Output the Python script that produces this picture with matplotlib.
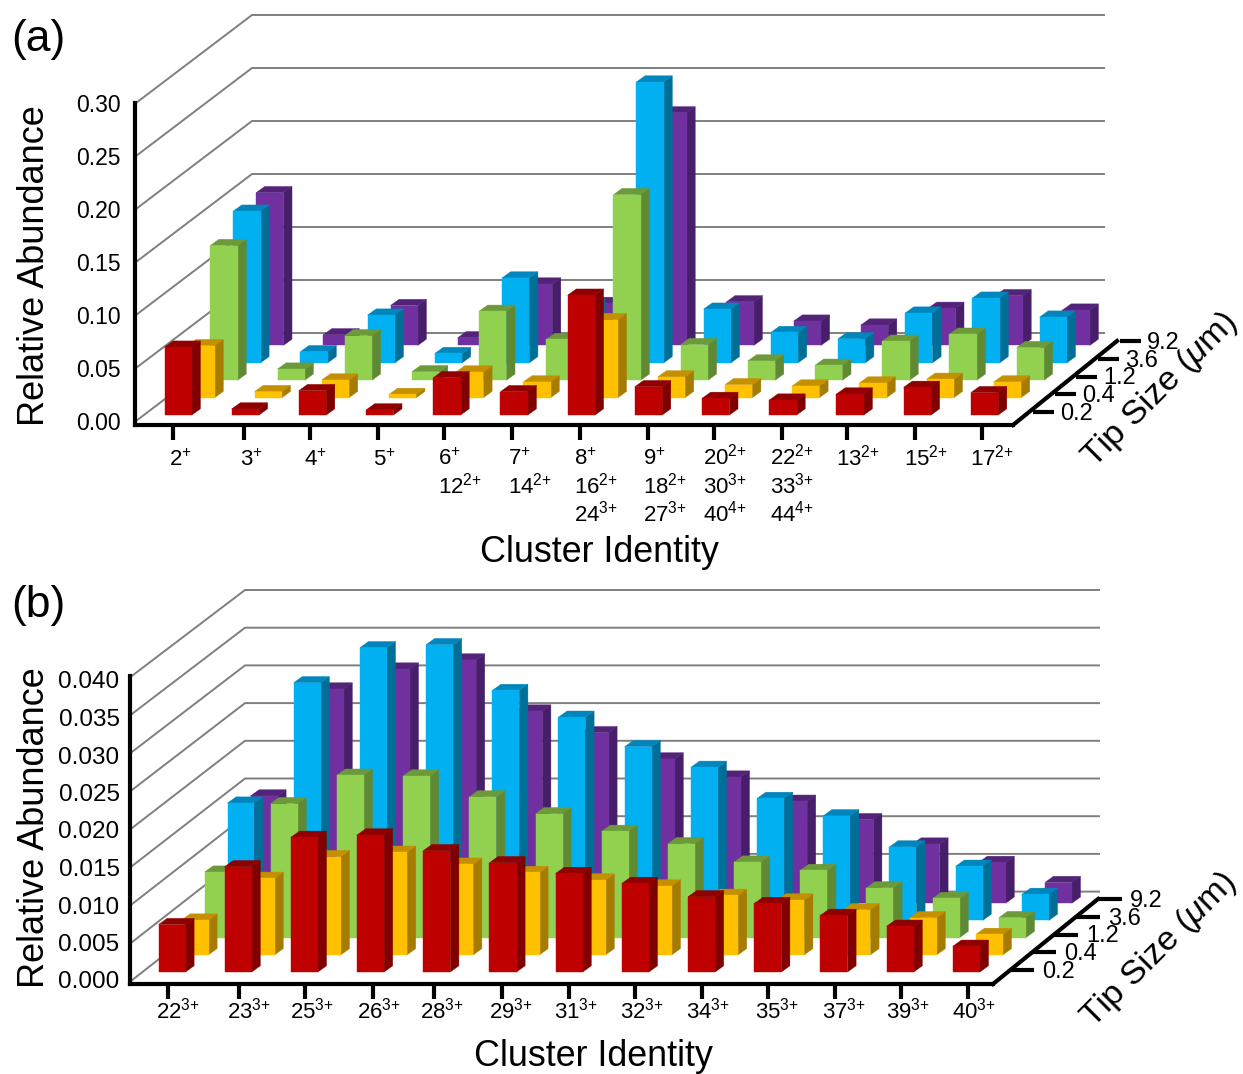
import matplotlib
matplotlib.use("Agg")
import matplotlib.pyplot as plt
from matplotlib.transforms import ScaledTranslation

plt.rcParams['font.family'] = ['Liberation Sans', 'DejaVu Sans']
plt.rcParams['mathtext.fontset'] = 'custom'
plt.rcParams['mathtext.rm'] = 'Liberation Sans'
plt.rcParams['mathtext.it'] = 'Liberation Sans:italic'
plt.rcParams['mathtext.bf'] = 'Liberation Sans:bold'
plt.rcParams['mathtext.default'] = 'regular'

W, H = 1243, 1074

tip_sizes = ['0.2', '0.4', '1.2', '3.6', '9.2']

# ---- panel (a) data ----
labels_a = ['2$^{+}$', '3$^{+}$', '4$^{+}$', '5$^{+}$',
            '6$^{+}$\n12$^{2{+}}$', '7$^{+}$\n14$^{2{+}}$',
            '8$^{+}$\n16$^{2{+}}$\n24$^{3{+}}$', '9$^{+}$\n18$^{2{+}}$\n27$^{3{+}}$',
            '20$^{2{+}}$\n30$^{3{+}}$\n40$^{4{+}}$', '22$^{2{+}}$\n33$^{3{+}}$\n44$^{4{+}}$',
            '13$^{2{+}}$', '15$^{2{+}}$', '17$^{2{+}}$']
a_02 = [.0640, .0057, .0230, .0048, .0352, .0220, .1130, .0267, .0157, .0141, .0198, .0261, .0211]
a_04 = [.0490, .0057, .0166, .0030, .0242, .0148, .0736, .0195, .0122, .0110, .0138, .0173, .0148]
a_12 = [.1270, .0105, .0420, .0080, .0650, .0384, .1750, .0336, .0182, .0141, .0368, .0434, .0308]
a_36 = [.1430, .0105, .0450, .0088, .0800, .0544, .2648, .0506, .0286, .0226, .0469, .0610, .0431]
a_92 = [.1440, .0100, .0376, .0072, .0579, .0396, .2193, .0411, .0229, .0192, .0350, .0469, .0333]
ticks_a = ['0.00', '0.05', '0.10', '0.15', '0.20', '0.25', '0.30']
tickvals_a = [0.0, 0.05, 0.10, 0.15, 0.20, 0.25, 0.30]

# ---- panel (b) data ----
labels_b = [f'{n}$^{{3{{+}}}}$' for n in [22, 23, 25, 26, 28, 29, 31, 32, 34, 35, 37, 39, 40]]
b_02 = [.00628, .01394, .01783, .01814, .01606, .01447, .01305, .01173, .00996, .00907, .00750, .00606, .00341]
b_04 = [.00460, .01013, .01300, .01358, .01200, .01090, .00991, .00912, .00788, .00726, .00597, .00491, .00270]
b_12 = [.00867, .01774, .02150, .02140, .01863, .01640, .01407, .01243, .01000, .00890, .00659, .00518, .00265]
b_36 = [.01553, .03146, .03610, .03650, .03044, .02690, .02300, .02027, .01615, .01385, .00973, .00717, .00345]
b_92 = [.01420, .02836, .03100, .03220, .02544, .02257, .01910, .01670, .01350, .01106, .00783, .00540, .00274]
ticks_b = ['0.000', '0.005', '0.010', '0.015', '0.020', '0.025', '0.030', '0.035', '0.040']
tickvals_b = [0.0, 0.005, 0.010, 0.015, 0.020, 0.025, 0.030, 0.035, 0.040]

# front, top, side colours per tip size (front row first)
colors = [('#BF0000', '#900000', '#800000'),
          ('#FFC000', '#C49000', '#A67C00'),
          ('#92D050', '#6C9A3A', '#5F8A33'),
          ('#00B0F0', '#0086BC', '#006F98'),
          ('#7030A0', '#53237A', '#471E69')]

fig = plt.figure(figsize=(W / 100, H / 100), dpi=100)


def draw_panel(series, xlabels, yticks, ylabels, L):
    ax = fig.add_axes([L['x0'] / W, 1 - L['y0'] / H,
                       (L['x1'] - L['x0']) / W, (L['y0'] - L['ytop']) / H])
    ax.patch.set_visible(False)
    sx = L['step']
    sy = (L['y0'] - L['ytop']) / yticks[-1]
    ax.set_xlim((L['x0'] - L['bar0']) / sx, (L['x1'] - L['bar0']) / sx)
    ax.set_ylim(0, yticks[-1])

    def pt(px, py):
        return (px - L['bar0']) / sx, (L['y0'] - py) / sy

    # wall grid
    for v in yticks:
        f = pt(L['wx0'], L['wfy'] - L['wfs'] * v)
        b = pt(L['wx1'], L['wby'] - L['wbs'] * v)
        e = pt(L['wx2'], L['wby'] - L['wbs'] * v)
        ax.plot([f[0], b[0], e[0]], [f[1], b[1], e[1]], color='#7F7F7F', lw=1.4,
                clip_on=False, zorder=1, solid_joinstyle='miter')

    # bars
    bw = L['bw'] / sx
    ox, oy = L['sidex'] / sx, L['sidey'] / sy
    zx, zy = L['zx'] / sx, L['zy'] / sy
    base = (L['y0'] - L['base']) / sy
    z_order = 2
    for z in range(len(series) - 1, -1, -1):
        front, top, side = colors[z]
        for i, val in enumerate(series[z]):
            v = val * L['persp']
            xl = i + z * zx
            y0 = base + z * zy
            kw = dict(clip_on=False, lw=0.3, zorder=z_order)
            ax.fill([xl + bw, xl + bw + ox, xl + bw + ox, xl + bw],
                    [y0, y0 + oy, y0 + oy + v, y0 + v], color=side, **kw)
            ax.fill([xl, xl + ox, xl + bw + ox, xl + bw],
                    [y0 + v, y0 + v + oy, y0 + v + oy, y0 + v], color=top, **kw)
            ax.fill([xl, xl + bw, xl + bw, xl],
                    [y0, y0, y0 + v, y0 + v], color=front, **kw)
        z_order += 1

    # spines
    for s in ['top', 'right']:
        ax.spines[s].set_visible(False)
    for s in ['left', 'bottom']:
        ax.spines[s].set_linewidth(3.0)
        ax.spines[s].set_zorder(20)
        ax.spines[s].set_capstyle('projecting')

    # x ticks: matplotlib's baseline is the last line of a label, so
    # multi-line labels are moved down to keep every first line level
    xt = [(p - L['bar0']) / sx for p in L['xtick_px']]
    ax.set_xticks(xt)
    ax.set_xticklabels(xlabels, fontsize=L['xfs'], ha='left', va='baseline',
                       multialignment='left', linespacing=L['xls'])
    ax.tick_params(axis='x', length=10.5, width=3.0, pad=L['xpad'])
    for lab, p, lft, text in zip(ax.get_xticklabels(), L['xtick_px'], L['xleft_px'], xlabels):
        down = text.count('\n') * L['xline_px']
        lab.set_transform(lab.get_transform() +
                          ScaledTranslation((lft - p) / 100, -down / 100, fig.dpi_scale_trans))

    # y ticks (labels sit on the slightly compressed grid scale)
    yp = [(L['y0'] - (L['ylab0'] - L['ylabs'] * v)) / sy for v in yticks]
    ax.set_yticks(yp)
    ax.set_yticklabels(ylabels, fontsize=L['yfs'])
    ax.tick_params(axis='y', length=0, pad=L['ypad'])

    # axis titles
    ax.set_ylabel('Relative Abundance', fontsize=26, va='center')
    ax.yaxis.set_label_coords(35 / W, 1 - L['ylab_y'] / H, transform=fig.transFigure)
    ax.set_xlabel('Cluster Identity', fontsize=25.8, va='center')
    ax.xaxis.set_label_coords(L['xlab'][0] / W, 1 - L['xlab'][1] / H, transform=fig.transFigure)

    # depth axis
    c0, c1 = pt(*L['corner0']), pt(*L['corner1'])
    ax.plot([c0[0], c1[0]], [c0[1], c1[1]], color='k', lw=3.0, clip_on=False,
            zorder=20, solid_capstyle='projecting')
    for k, name in enumerate(tip_sizes):
        px = L['dt0'][0] + k * L['dtstep'][0]
        py = L['dt0'][1] + k * L['dtstep'][1]
        a, b = pt(px, py), pt(px + L['dtlen'], py)
        ax.plot([a[0], b[0]], [a[1], b[1]], color='k', lw=3.0, clip_on=False, zorder=20,
                solid_capstyle='butt')
        tx, ty = pt(px + L['dtlab'], py + 2)
        ax.text(tx, ty, name, fontsize=17, ha='left', va='center', clip_on=False, zorder=21)

    tx, ty = L['tip']
    fig.text(tx / W, 1 - ty / H, 'Tip Size ($\\mathit{\\mu}$m)', fontsize=24.8, rotation=45,
             ha='center', va='center', rotation_mode='anchor')
    tx, ty = L['letter'][:2]
    fig.text(tx / W, 1 - ty / H, L['letter'][2], fontsize=32, ha='left', va='center')


layout_a = dict(x0=135, x1=1013, y0=425, ytop=103, bar0=164.5, step=67.2, bw=27.3,
                sidex=8.6, sidey=6.2, zx=22.9, zy=17.4, base=415, persp=0.988,
                wx0=136, wx1=252, wx2=1104, wfy=421, wfs=1060, wby=333, wbs=1060,
                xtick_px=[173, 244, 310, 378, 444, 512, 580, 648, 714, 782, 847, 915, 982],
                xleft_px=[169, 240, 304, 373, 438, 508, 574, 643, 703, 770, 836, 904, 970],
                xfs=16, xls=1.12, xline_px=28, xpad=18.7, yfs=16.5, ypad=10.5,
                ylab0=421, ylabs=1060, ylab_y=266, xlab=(600, 553),
                corner0=(1013, 425), corner1=(1117, 341), dt0=(1033, 412), dtstep=(21.7, -17.75),
                dtlen=21, dtlab=27, tip=(1160, 390), letter=(11, 39, '(a)'))
layout_b = dict(x0=130, x1=993, y0=984, ytop=676, bar0=158.5, step=66.2, bw=27,
                sidex=8.6, sidey=6.2, zx=23, zy=17.2, base=972, persp=0.981,
                wx0=131, wx1=245, wx2=1099, wfy=981, wfs=7610, wby=891.6, wbs=7540,
                xtick_px=[168, 239, 305, 373, 434, 502, 569, 635, 702, 768, 835, 901, 968],
                xleft_px=[156, 227, 290, 357, 420, 489, 554, 620, 686, 755, 822, 886, 952],
                xfs=16, xls=1.12, xline_px=28, xpad=14.5, yfs=17.5, ypad=7.5,
                ylab0=980, ylabs=7500, ylab_y=828, xlab=(594, 1057),
                corner0=(993, 984), corner1=(1098, 899), dt0=(1010, 970), dtstep=(22, -17.75),
                dtlen=24, dtlab=32, tip=(1159, 950), letter=(11, 605, '(b)'))

draw_panel([a_02, a_04, a_12, a_36, a_92], labels_a, tickvals_a, ticks_a, layout_a)
draw_panel([b_02, b_04, b_12, b_36, b_92], labels_b, tickvals_b, ticks_b, layout_b)

fig.savefig('out.png', dpi=100, facecolor='white')
